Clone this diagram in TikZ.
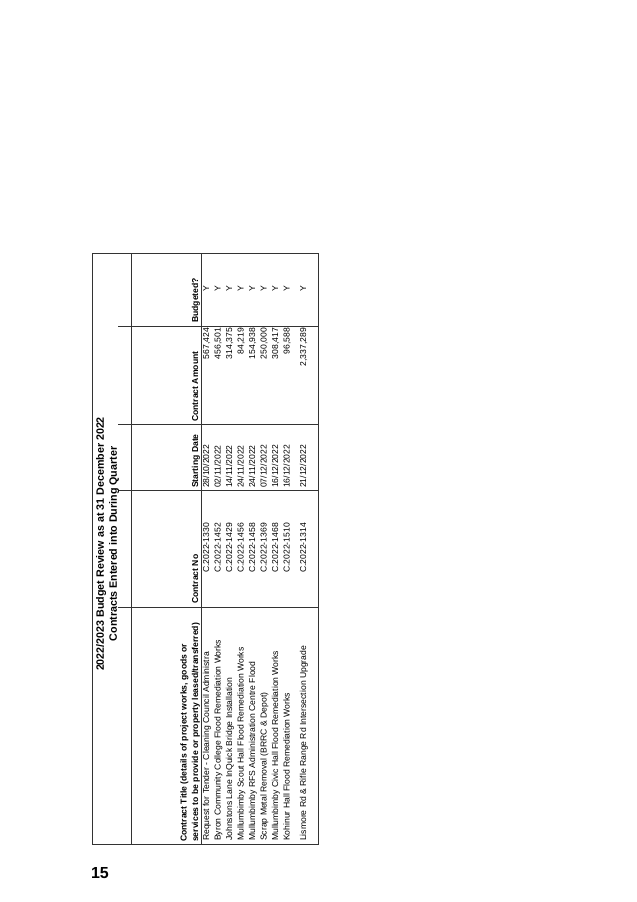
\documentclass[tikz,border=0pt]{standalone}
\usepackage{fontspec}
\setmainfont{Liberation Sans}
\begin{document}
\begin{tikzpicture}[x=1pt,y=-1pt,
  grid/.style={line width=0.9pt, draw=black!80},
  dat/.style={font=\fontsize{8.6}{10}\selectfont, inner sep=0pt, rotate=90},
  hdr/.style={font=\fontsize{8.6}{10}\selectfont\bfseries, inner sep=0pt, rotate=90},
  ttl/.style={font=\fontsize{10.7}{12}\selectfont\bfseries, inner sep=0pt, rotate=90},
  pgnum/.style={font=\fontsize{16}{18}\selectfont\bfseries, inner sep=0pt}]
\fill[white] (0,0) rectangle (637,902);
\useasboundingbox (0,0) rectangle (637,902);
% table grid
\draw[grid] (92,253) rectangle (318,844);
\draw[grid] (131,253) -- (131,844);
\draw[grid] (201,253) -- (201,844);
\foreach \y in {326,424,490,607} \draw[grid] (118,\y) -- (318,\y);
% title
\node[ttl, anchor=base] (t1) at (103.8,544) {2022/2023 Budget Review as at 31 December 2022};
\node[ttl, anchor=base] (t2) at (116.8,544) {Contracts Entered into During Quarter};
% headers
\node[hdr, anchor=base west] (hT1) at (186.6,842) {Contract Title (details of project works, goods or};
\node[hdr, anchor=base west] (hT2) at (198.1,842) {services to be provide or property leased/transferred)};
\node[hdr, anchor=base west] (hN) at (198.1,604) {Contract No};
\node[hdr, anchor=base west] (hD) at (198.1,488) {Starting Date};
\node[hdr, anchor=base west] (hA) at (198.1,422) {Contract Amount};
\node[hdr, anchor=base west] (hB) at (198.1,323) {Budgeted?};
% row 1
\node[dat, anchor=base west] (c1) at (209.1,841) {Request for Tender - Cleaning Council Administra};
\node[dat, anchor=base] (n1) at (209.1,548) {C.2022-1330};
\node[dat, anchor=base west] (d1) at (209.1,488) {28/10/2022};
\node[dat, anchor=base east] (a1) at (209.1,328) {567,424};
\node[dat, anchor=base] (b1) at (209.1,289) {Y};
% row 2
\node[dat, anchor=base west] (c2) at (220.6,841) {Byron Community College Flood Remediation Works};
\node[dat, anchor=base] (n2) at (220.6,548) {C.2022-1452};
\node[dat, anchor=base west] (d2) at (220.6,488) {02/11/2022};
\node[dat, anchor=base east] (a2) at (220.6,328) {456,501};
\node[dat, anchor=base] (b2) at (220.6,289) {Y};
% row 3
\node[dat, anchor=base west] (c3) at (232.1,841) {Johnstons Lane InQuick Bridge Installation};
\node[dat, anchor=base] (n3) at (232.1,548) {C.2022-1429};
\node[dat, anchor=base west] (d3) at (232.1,488) {14/11/2022};
\node[dat, anchor=base east] (a3) at (232.1,328) {314,375};
\node[dat, anchor=base] (b3) at (232.1,289) {Y};
% row 4
\node[dat, anchor=base west] (c4) at (243.6,841) {Mullumbimby Scout Hall Flood Remediation Works};
\node[dat, anchor=base] (n4) at (243.6,548) {C.2022-1456};
\node[dat, anchor=base west] (d4) at (243.6,488) {24/11/2022};
\node[dat, anchor=base east] (a4) at (243.6,328) {84,219};
\node[dat, anchor=base] (b4) at (243.6,289) {Y};
% row 5
\node[dat, anchor=base west] (c5) at (255.1,841) {Mullumbimby RFS Administration Centre Flood};
\node[dat, anchor=base] (n5) at (255.1,548) {C.2022-1458};
\node[dat, anchor=base west] (d5) at (255.1,488) {24/11/2022};
\node[dat, anchor=base east] (a5) at (255.1,328) {154,938};
\node[dat, anchor=base] (b5) at (255.1,289) {Y};
% row 6
\node[dat, anchor=base west] (c6) at (266.6,841) {Scrap Metal Removal (BRRC \& Depot)};
\node[dat, anchor=base] (n6) at (266.6,548) {C.2022-1369};
\node[dat, anchor=base west] (d6) at (266.6,488) {07/12/2022};
\node[dat, anchor=base east] (a6) at (266.6,328) {250,000};
\node[dat, anchor=base] (b6) at (266.6,289) {Y};
% row 7
\node[dat, anchor=base west] (c7) at (278.1,841) {Mullumbimby Civic Hall Flood Remediation Works};
\node[dat, anchor=base] (n7) at (278.1,548) {C.2022-1468};
\node[dat, anchor=base west] (d7) at (278.1,488) {16/12/2022};
\node[dat, anchor=base east] (a7) at (278.1,328) {308,417};
\node[dat, anchor=base] (b7) at (278.1,289) {Y};
% row 8
\node[dat, anchor=base west] (c8) at (289.6,841) {Kohinur Hall Flood Remediation Works};
\node[dat, anchor=base] (n8) at (289.6,548) {C.2022-1510};
\node[dat, anchor=base west] (d8) at (289.6,488) {16/12/2022};
\node[dat, anchor=base east] (a8) at (289.6,328) {96,588};
\node[dat, anchor=base] (b8) at (289.6,289) {Y};
% row 9
\node[dat, anchor=base west] (c9) at (306.1,841) {Lismore Rd \& Rifle Range Rd Intersection Upgrade};
\node[dat, anchor=base] (n9) at (306.1,548) {C.2022-1314};
\node[dat, anchor=base west] (d9) at (306.1,488) {21/12/2022};
\node[dat, anchor=base east] (a9) at (306.1,328) {2,337,289};
\node[dat, anchor=base] (b9) at (306.1,289) {Y};
% page number
\node[pgnum] (pg) at (100,873) {15};
\end{tikzpicture}
\end{document}
